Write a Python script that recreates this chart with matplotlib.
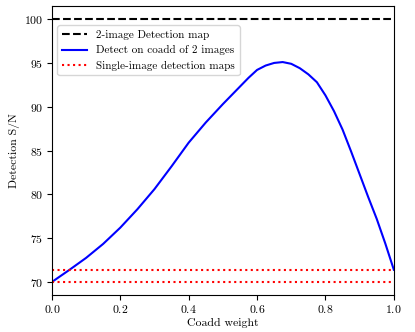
import numpy as np
import matplotlib
matplotlib.use("Agg")
import matplotlib.pyplot as plt

plt.rcParams["font.family"] = "cmr10"
plt.rcParams["mathtext.fontset"] = "cm"
plt.rcParams["axes.unicode_minus"] = False
plt.rcParams["axes.formatter.use_mathtext"] = True

# values
weight = [0.0, 0.05, 0.1, 0.15, 0.2, 0.25, 0.3, 0.35, 0.4, 0.45, 0.5, 0.55,
          0.575, 0.6, 0.625, 0.65, 0.675, 0.7, 0.725, 0.75, 0.775, 0.8,
          0.825, 0.85, 0.875, 0.9, 0.925, 0.95, 0.975, 1.0]
coadd_sn = [70.0, 71.35, 72.75, 74.35, 76.2, 78.3, 80.6, 83.2, 85.9, 88.2, 90.3, 92.3,
            93.3, 94.2, 94.7, 95.0, 95.1, 94.9, 94.4, 93.7, 92.8, 91.3,
            89.5, 87.4, 84.9, 82.3, 79.7, 77.2, 74.4, 71.4]
two_image_sn = 100.0
single_sn = [70.0, 71.4]

fig = plt.figure(figsize=(4.15, 3.32), dpi=100)
ax = fig.add_axes([0.125, 0.111, 0.824, 0.871])

ax.axhline(two_image_sn, color="k", ls="--", lw=1.5, label="2-image Detection map")
ax.plot(weight, coadd_sn, color="b", lw=1.5, label="Detect on coadd of 2 images")
for i, s in enumerate(single_sn):
    ax.axhline(s, color="r", ls=":", lw=1.5,
               label="Single-image detection maps" if i == 0 else None)

ax.set_xlim(0, 1)
ax.set_ylim(68.5, 101.5)
ax.set_xlabel("Coadd weight", fontsize=8.5, labelpad=2)
ax.set_ylabel("Detection S/N", fontsize=8.5, labelpad=3)
ax.tick_params(labelsize=8.5, length=3.5, pad=2.5)
ax.legend(loc="upper left", bbox_to_anchor=(0, 0.952), fontsize=8,
          handlelength=2.3)

fig.savefig("out.png", dpi=100)
